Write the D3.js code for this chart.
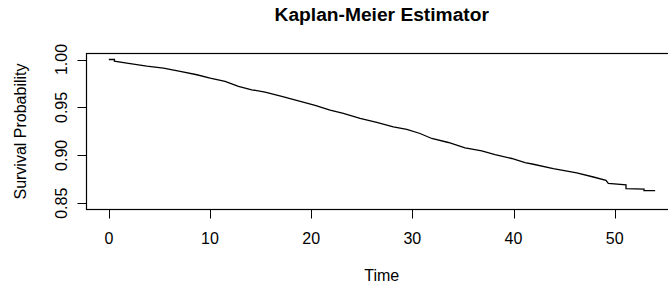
<!DOCTYPE html>
<html>
<head>
<meta charset="utf-8">
<script src="https://cdn.jsdelivr.net/npm/d3@7"></script>
<style>
  body { margin: 0; background: #fff; }
  svg { display: block; font-family: "Liberation Sans", Arial, sans-serif; }
</style>
</head>
<body>
<svg id="chart" width="668" height="294"></svg>
<script>
// Kaplan-Meier curve (time, survival)
var times = [0, 0.55, 0.55, 1.78, 3.75, 5.40, 7.05, 8.70, 10.01, 11.49, 12.81, 14.13, 15.44, 17.09,
    18.74, 20.39, 21.87, 23.18, 24.83, 26.48, 28.12, 29.45, 30.76, 31.92, 33.56, 35.21, 36.86,
    38.17, 39.82, 41.14, 41.96, 43.93, 46.25, 47.89, 49.14, 49.37, 51.12, 51.12, 52.9, 52.9, 54.0];
var survival = [1.000, 1.000, 0.9982, 0.9963, 0.9932, 0.9911, 0.9877, 0.9841, 0.9806, 0.9772, 0.9720,
    0.9684, 0.9660, 0.9615, 0.9569, 0.9521, 0.9472, 0.9437, 0.9385, 0.9343, 0.9297, 0.9270, 0.9228,
    0.9176, 0.9134, 0.9077, 0.9046, 0.9008, 0.8967, 0.8925, 0.8907, 0.8862, 0.8816, 0.8774, 0.8740,
    0.8708, 0.8692, 0.8653, 0.8647, 0.8632, 0.8632];

var xTicks = [0, 10, 20, 30, 40, 50];
var yTicks = [0.85, 0.90, 0.95, 1.00];
var yTickLabels = ["0.85", "0.90", "0.95", "1.00"];

var titleText = "Kaplan-Meier Estimator";
var xLabel = "Time";
var yLabel = "Survival Probability";

var svg = d3.select("#chart");

// plot region (R style, 4% padding on data range)
var plotL = 86.5, plotR = 677, plotT = 53.5, plotB = 209.5;
var tMax = d3.max(times);
var x = d3.scaleLinear()
        .domain([-0.04 * tMax, tMax * 1.04])
        .range([plotL + 0.5, plotR]);
var y = d3.scaleLinear()
        .domain([0.844, 1.0068])
        .range([plotB - 0.5, plotT - 0.5]);

var pts = times.map(function(t, i) { return [t, survival[i]]; });

var line = d3.line()
        .x(function(d) { return x(d[0]); })
        .y(function(d) { return y(d[1]); });

svg.append("path")
    .datum(pts)
    .attr("d", line)
    .attr("fill", "none")
    .attr("stroke", "#000")
    .attr("stroke-width", 1.3);

// box
svg.append("rect")
    .attr("x", plotL)
    .attr("y", plotT)
    .attr("width", plotR - plotL)
    .attr("height", plotB - plotT)
    .attr("fill", "none")
    .attr("stroke", "#000")
    .attr("stroke-width", 1.2);

// x axis ticks + labels
svg.append("g")
    .selectAll("line")
    .data(xTicks)
    .enter()
    .append("line")
    .attr("x1", function(d) { return Math.round(x(d)) + 0.5; })
    .attr("x2", function(d) { return Math.round(x(d)) + 0.5; })
    .attr("y1", plotB)
    .attr("y2", plotB + 9)
    .attr("stroke", "#000");

svg.append("g")
    .selectAll("text")
    .data(xTicks)
    .enter()
    .append("text")
    .attr("x", function(d) { return x(d); })
    .attr("y", 244)
    .attr("text-anchor", "middle")
    .style("font-size", "16px")
    .text(function(d) { return d; });

// y axis ticks + labels (rotated like R's las=0)
svg.append("g")
    .selectAll("line")
    .data(yTicks)
    .enter()
    .append("line")
    .attr("x1", plotL)
    .attr("x2", plotL - 9)
    .attr("y1", function(d) { return Math.round(y(d)) + 0.5; })
    .attr("y2", function(d) { return Math.round(y(d)) + 0.5; })
    .attr("stroke", "#000");

svg.append("g")
    .selectAll("text")
    .data(yTicks)
    .enter()
    .append("text")
    .attr("transform", function(d) { return "translate(66.5," + y(d) + ") rotate(-90)"; })
    .attr("text-anchor", "middle")
    .style("font-size", "16px")
    .text(function(d, i) { return yTickLabels[i]; });

// titles
svg.append("text")
    .attr("x", (plotL + plotR) / 2)
    .attr("y", 21)
    .attr("text-anchor", "middle")
    .style("font-size", "19.2px")
    .style("font-weight", "bold")
    .text(titleText);

svg.append("text")
    .attr("x", (plotL + plotR) / 2)
    .attr("y", 281)
    .attr("text-anchor", "middle")
    .style("font-size", "16px")
    .text(xLabel);

svg.append("text")
    .attr("transform", "translate(25.5," + (plotT + plotB) / 2 + ") rotate(-90)")
    .attr("text-anchor", "middle")
    .style("font-size", "16px")
    .text(yLabel);
</script>
</body>
</html>
